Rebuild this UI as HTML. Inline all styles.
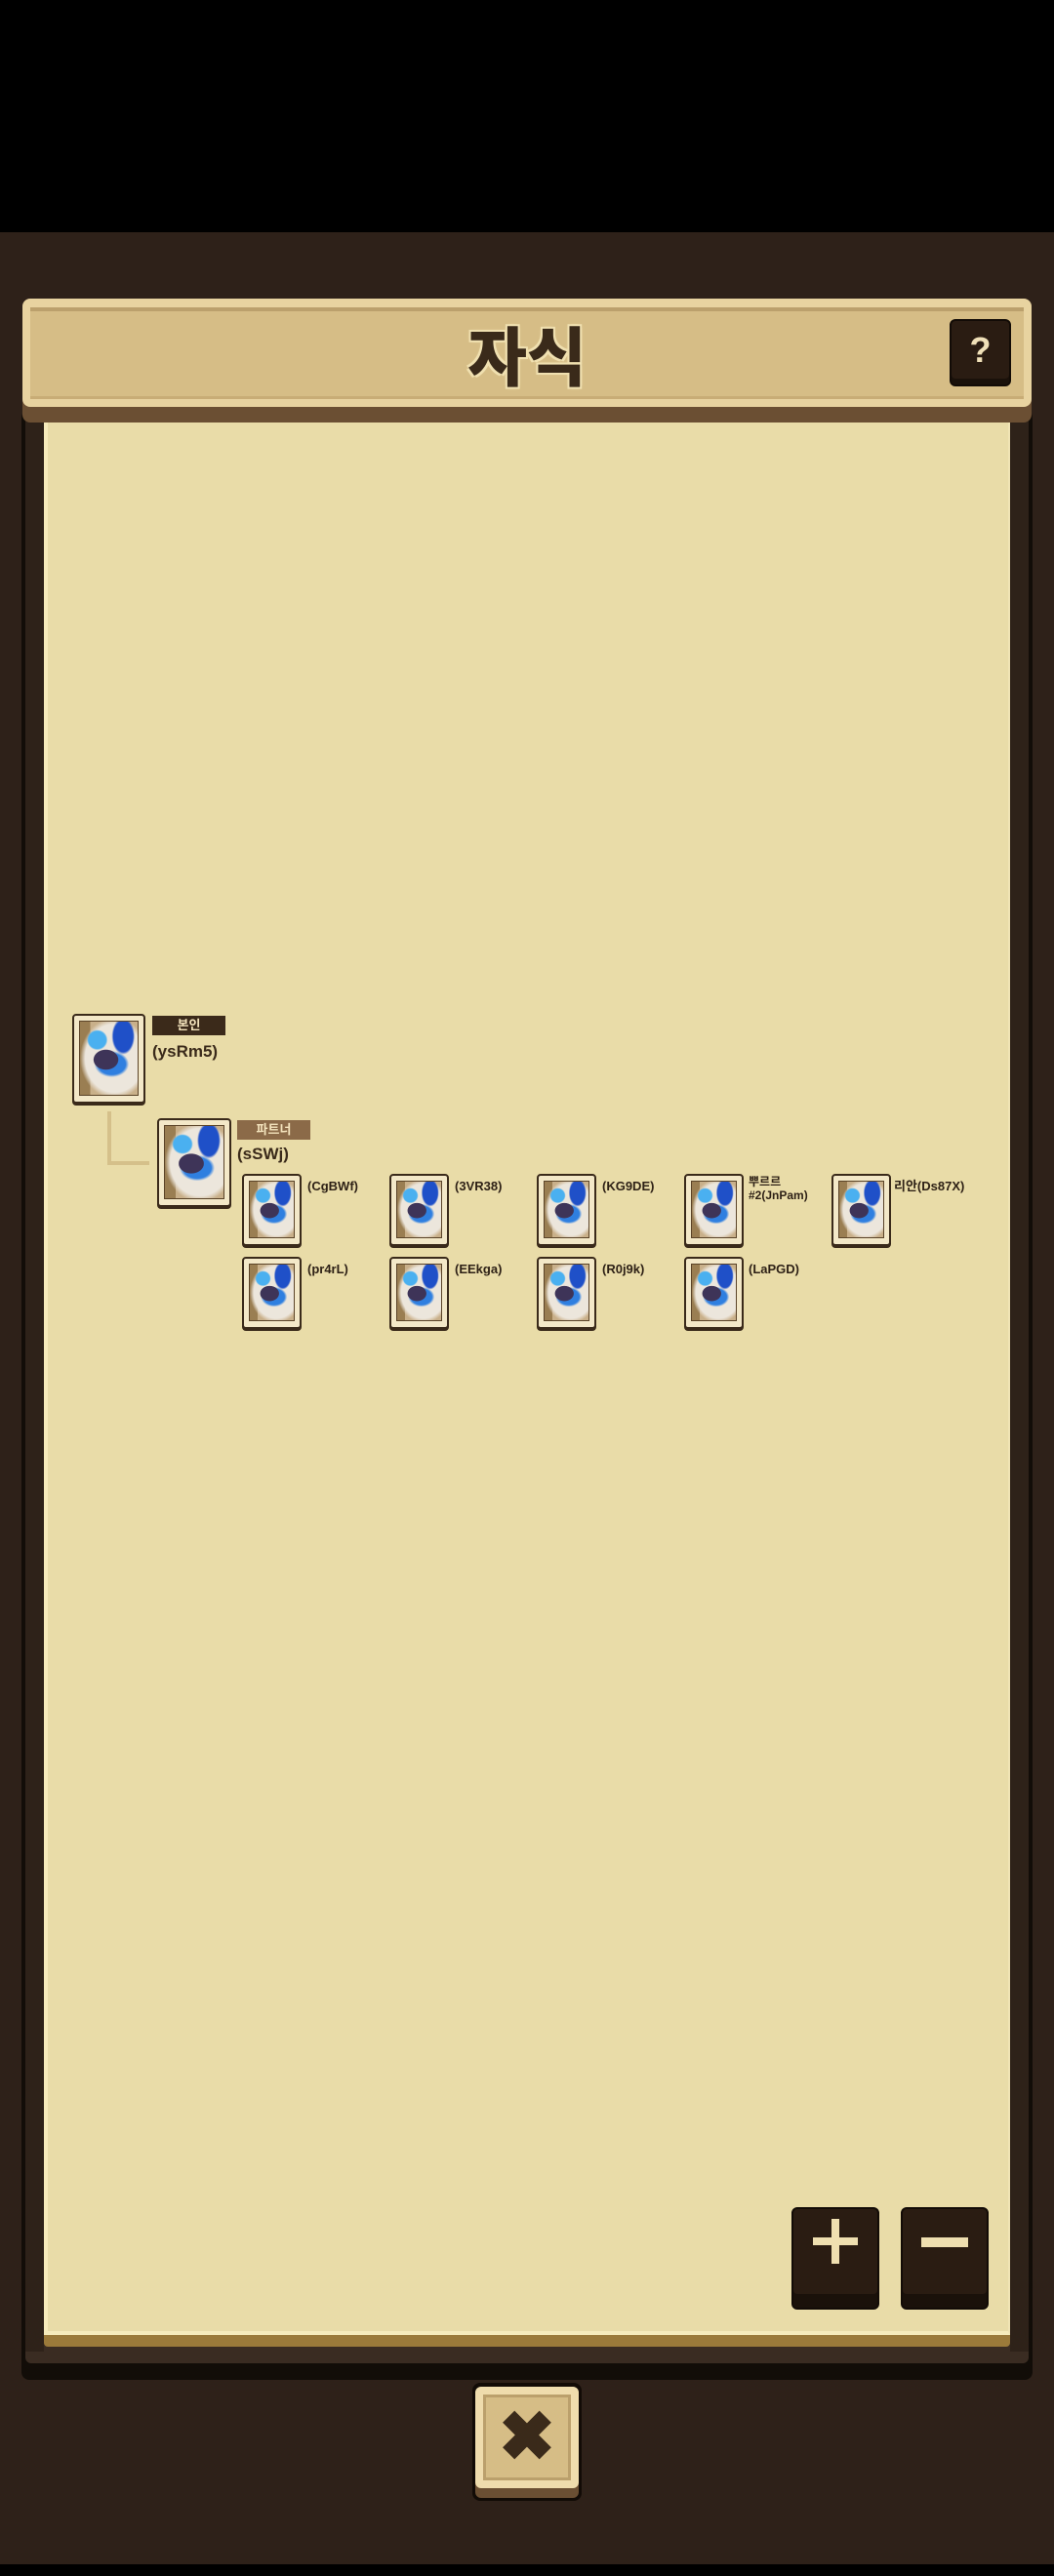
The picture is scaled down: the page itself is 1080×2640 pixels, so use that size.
<!DOCTYPE html>
<html><head><meta charset="utf-8"><style>
*{margin:0;padding:0;box-sizing:border-box}
body{width:1080px;height:2640px;background:#2e2119;position:relative;overflow:hidden;font-family:"Liberation Sans","Noto Sans CJK KR",sans-serif}
.a{position:absolute}
.card{position:absolute;border:2px solid #3a2a1a;border-radius:4px;background:#f3e8c8;box-shadow:0 2px 0 #3a2a1a}
.card .in{position:absolute;left:5px;top:5px;right:5px;bottom:6px;border:1px solid #5a4328;background:
radial-gradient(ellipse 22% 14% at 45% 52%, #3e3458 0 95%, transparent 100%),
radial-gradient(ellipse 30% 18% at 55% 58%, #2f7fe0 0 80%, transparent 100%),
radial-gradient(ellipse 20% 25% at 75% 20%, #1f50c8 0 85%, transparent 100%),
radial-gradient(ellipse 18% 14% at 30% 25%, #4ab0f0 0 85%, transparent 100%),
radial-gradient(ellipse 60% 55% at 60% 50%, #ece6dc 0 85%, transparent 100%),
linear-gradient(90deg,#9a7e52 0 18%,#c9b08a 18% 100%)}
.lb{position:absolute;font-weight:bold;color:#2e2116;font-size:13px;line-height:14px}
.tag{position:absolute;width:75px;height:20px;color:#f3e3bc;font-size:13px;text-align:center;line-height:20px;font-weight:bold}
.nm{position:absolute;font-weight:bold;color:#3a2a1a;font-size:17px}
.btn{position:absolute;background:#2a1c12;border:2px solid #120b06;border-radius:6px;box-shadow:inset 0 -14px 0 #1a110a}
</style></head><body>
<div class="a" style="left:0;top:0;width:1080px;height:238px;background:#000"></div>
<div class="a" style="left:0;top:2628px;width:1080px;height:12px;background:#000"></div>
<!-- frame -->
<div class="a" style="left:22px;top:420px;width:1036px;height:2019px;background:#120d08;border-radius:8px"></div>
<div class="a" style="left:26px;top:420px;width:1028px;height:2002px;background:#3a2c22;border-radius:6px"></div>
<div class="a" style="left:26px;top:420px;width:19px;height:1990px;background:#2e2219"></div>
<div class="a" style="left:1035px;top:420px;width:19px;height:1990px;background:#2e2219"></div>
<!-- parchment -->
<div class="a" style="left:45px;top:430px;width:990px;height:1975px;background:#9b7a3a;border-radius:4px"></div>
<div class="a" style="left:45px;top:430px;width:990px;height:1963px;background:#e9dca8;border-left:4px solid #f6ebbb;border-right:2px solid #f0e4b4;border-bottom:4px solid #f6ebbb"></div>
<!-- title bar -->
<div class="a" style="left:23px;top:306px;width:1034px;height:127px;background:#6b4f33;border-radius:8px"></div>
<div class="a" style="left:23px;top:306px;width:1034px;height:111px;background:#e8d3a0;border-radius:8px"></div>
<div class="a" style="left:31px;top:315px;width:1018px;height:94px;background:#d6bd86;border-top:4px solid #bba06c;border-bottom:3px solid #c8ac76"></div>
<div class="a" style="left:0;top:322px;width:1080px;text-align:center;font-size:66px;font-weight:900;color:#3a2a1a;line-height:80px;font-family:'Noto Sans CJK KR',sans-serif;text-shadow:0 0 4px #f0e0b0,2px 2px 0 #f0e0b0,-2px -2px 0 #f0e0b0,2px -2px 0 #f0e0b0,-2px 2px 0 #f0e0b0">자식</div>
<div class="btn" style="left:973px;top:327px;width:63px;height:69px;box-shadow:inset 0 -6px 0 #1a110a"></div>
<div class="a" style="left:973px;top:334px;width:63px;text-align:center;color:#f0e0b8;font-size:36px;font-weight:bold;line-height:50px">?</div>
<!-- nodes -->
<div class="a" style="left:110px;top:1139px;width:4px;height:55px;background:#d5c08a"></div>
<div class="a" style="left:110px;top:1190px;width:43px;height:4px;background:#d5c08a"></div>
<div class="card" style="left:74px;top:1039px;width:75px;height:92px"><div class="in"></div></div>
<div class="tag" style="left:156px;top:1041px;background:#3b2a1a">본인</div>
<div class="nm" style="left:156px;top:1068px">(ysRm5)</div>
<div class="card" style="left:161px;top:1146px;width:76px;height:91px"><div class="in"></div></div>
<div class="tag" style="left:243px;top:1148px;background:#8b6a48">파트너</div>
<div class="nm" style="left:243px;top:1173px">(sSWj)</div>

<div class="card" style="left:248px;top:1203px;width:61px;height:74px"><div class="in"></div></div>
<div class="lb" style="left:315px;top:1209px">(CgBWf)</div>
<div class="card" style="left:399px;top:1203px;width:61px;height:74px"><div class="in"></div></div>
<div class="lb" style="left:466px;top:1209px">(3VR38)</div>
<div class="card" style="left:550px;top:1203px;width:61px;height:74px"><div class="in"></div></div>
<div class="lb" style="left:617px;top:1209px">(KG9DE)</div>
<div class="card" style="left:701px;top:1203px;width:61px;height:74px"><div class="in"></div></div>
<div class="lb" style="left:767px;top:1204px;font-size:12px;line-height:14px">뿌르르<br>#2(JnPam)</div>
<div class="card" style="left:852px;top:1203px;width:61px;height:74px"><div class="in"></div></div>
<div class="lb" style="left:916px;top:1209px">리안(Ds87X)</div>

<div class="card" style="left:248px;top:1288px;width:61px;height:74px"><div class="in"></div></div>
<div class="lb" style="left:315px;top:1294px">(pr4rL)</div>
<div class="card" style="left:399px;top:1288px;width:61px;height:74px"><div class="in"></div></div>
<div class="lb" style="left:466px;top:1294px">(EEkga)</div>
<div class="card" style="left:550px;top:1288px;width:61px;height:74px"><div class="in"></div></div>
<div class="lb" style="left:617px;top:1294px">(R0j9k)</div>
<div class="card" style="left:701px;top:1288px;width:61px;height:74px"><div class="in"></div></div>
<div class="lb" style="left:767px;top:1294px">(LaPGD)</div>

<!-- zoom buttons -->
<div class="btn" style="left:811px;top:2262px;width:90px;height:105px"></div>
<div class="a" style="left:833px;top:2293px;width:46px;height:8px;background:#efdfb0"></div>
<div class="a" style="left:852px;top:2274px;width:8px;height:46px;background:#efdfb0"></div>
<div class="btn" style="left:923px;top:2262px;width:90px;height:105px"></div>
<div class="a" style="left:944px;top:2293px;width:48px;height:10px;background:#efdfb0"></div>
<!-- close -->
<div class="a" style="left:484px;top:2442px;width:112px;height:121px;background:#120b06;border-radius:8px"></div>
<div class="a" style="left:487px;top:2446px;width:106px;height:114px;background:#6b4f33;border-radius:6px"></div>
<div class="a" style="left:487px;top:2446px;width:106px;height:104px;background:#efdcad;border-radius:6px"></div>
<div class="a" style="left:495px;top:2454px;width:90px;height:88px;background:#d6bd86;border:3px solid #bba06c"></div>
<div class="a" style="left:487px;top:2452px;width:106px;text-align:center;font-size:70px;font-weight:900;color:#3a2a1a;line-height:90px">✖</div>
</body></html>
